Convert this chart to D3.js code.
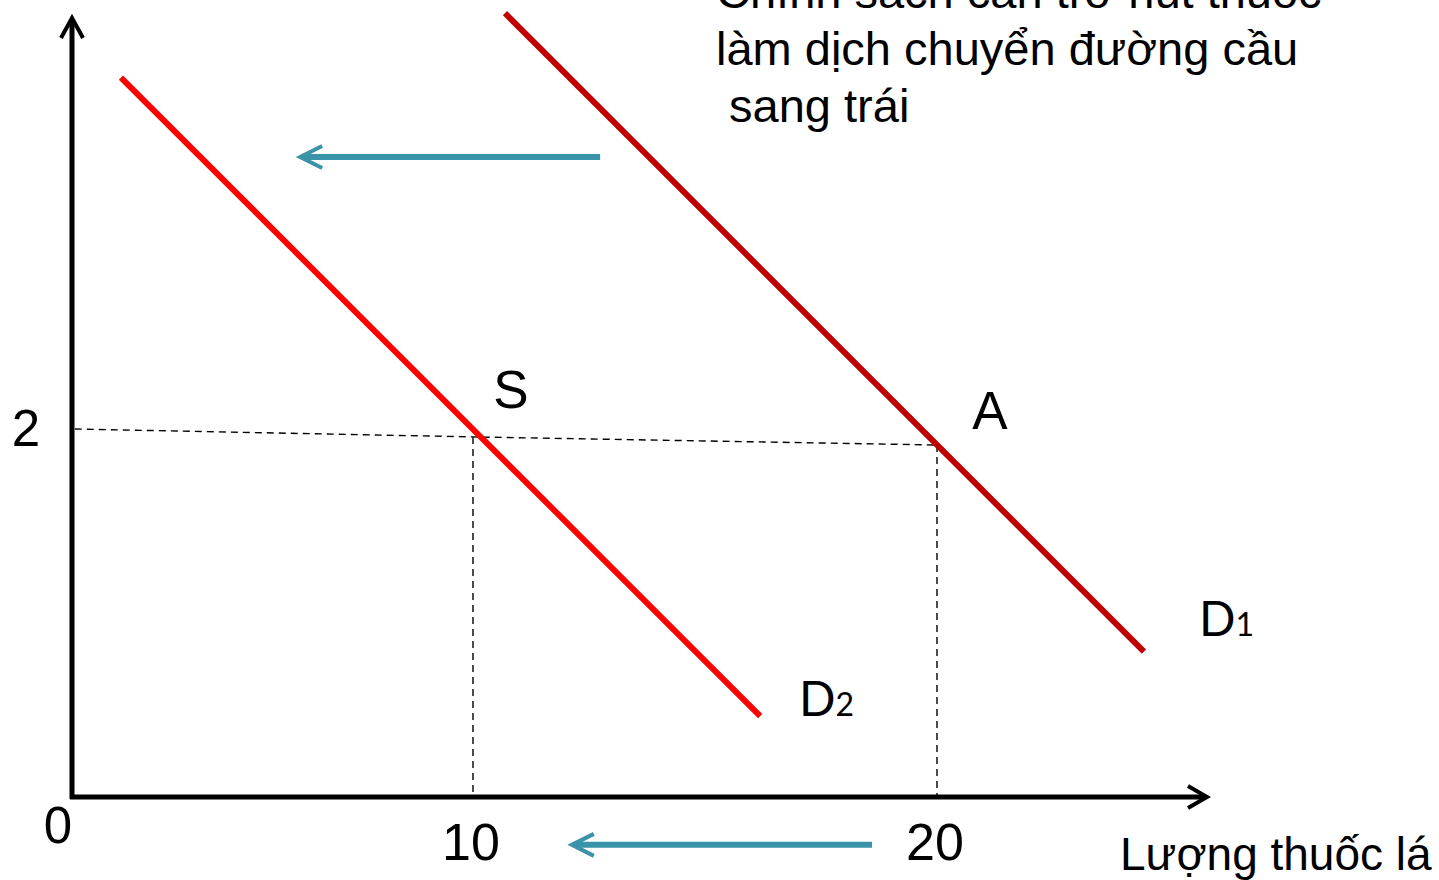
<!DOCTYPE html>
<html><head><meta charset="utf-8">
<script src="https://cdn.jsdelivr.net/npm/d3@7"></script>
<style>html,body{margin:0;padding:0;background:#fff;overflow:hidden}</style>
</head><body>
<svg id="chart" width="1439" height="880"></svg>
<script>
// ---- data (quantity, price) ----
const xTicks = [0, 10, 20];
const xTickLabels = ["0", "10", "20"];
const yTickValue = 2;
const yTickLabel = "2";
const demandD1 = [[10.69, 4.26], [24.46, 0.79]];
const demandD2 = [[1.22, 3.91], [16.19, 0.44]];
const priceLine = [[0.07, 2.0], [10, 1.957], [20, 1.913]];
const pointS = [10, 1.957];
const pointA = [20, 1.913];
const pointLabels = ["S", "A"];
const curveLabels = ["D", "D"];
const curveSubs = ["1", "2"];
const titleLines = ["Chính sách cản trở hút thuốc", "làm dịch chuyển đường cầu", " sang trái"];
const xAxisTitle = "Lượng thuốc lá";
const shiftArrowTop = [[12.74, 3.478], [5.69, 3.478]];
const shiftArrowBottom = [[18.6, -0.26], [12.13, -0.26]];

const svg = d3.select("#chart");
const x = d3.scaleLinear().domain([0, 10, 20]).range([72, 473, 937]);
const y = d3.scaleLinear().domain([0, 2]).range([797, 429]);

const F = "'Liberation Sans', Arial, sans-serif";
const blue = "#3a93a8";

// dashed guides
const line = d3.line().x(d => x(d[0])).y(d => y(d[1]));
svg.append("path").attr("d", line(priceLine)).attr("fill","none")
  .attr("stroke","#000").attr("stroke-width",1.4).attr("stroke-dasharray","7,5");
[pointS, pointA].forEach(p => {
  svg.append("line").attr("x1", x(p[0])).attr("x2", x(p[0]))
    .attr("y1", y(p[1])).attr("y2", y(0))
    .attr("stroke","#000").attr("stroke-width",1.4).attr("stroke-dasharray","7,5");
});

// demand curves
svg.append("path").attr("d", line(demandD2)).attr("stroke","#ff0000").attr("stroke-width",6).attr("fill","none");
svg.append("path").attr("d", line(demandD1)).attr("stroke","#c00000").attr("stroke-width",6).attr("fill","none");

// axes
const x0 = x(0), y0 = y(0);
svg.append("line").attr("x1", x0).attr("x2", x0).attr("y1", 20).attr("y2", y0+2)
  .attr("stroke","#000").attr("stroke-width",5);
svg.append("line").attr("x1", x0-2).attr("x2", 1204).attr("y1", y0).attr("y2", y0)
  .attr("stroke","#000").attr("stroke-width",5);
svg.append("path").attr("d", `M${x0-11},${38} L${x0},${18} L${x0+11},${38}`)
  .attr("fill","none").attr("stroke","#000").attr("stroke-width",4);
svg.append("path").attr("d", `M1188,${y0-11} L1207,${y0} L1188,${y0+11}`)
  .attr("fill","none").attr("stroke","#000").attr("stroke-width",4);

// tick labels
svg.append("text").attr("x", 58).attr("y", 843).attr("text-anchor","middle")
  .attr("font-family",F).attr("font-size",51).text(xTickLabels[0]);
xTicks.slice(1).forEach((t,i) => {
  svg.append("text").attr("x", x(t)-2).attr("y", 860).attr("text-anchor","middle")
    .attr("font-family",F).attr("font-size",52).text(xTickLabels[i+1]);
});
svg.append("text").attr("x", 26).attr("y", y(yTickValue)+17).attr("text-anchor","middle")
  .attr("font-family",F).attr("font-size",51).text(yTickLabel);

// point labels
svg.append("text").attr("x", x(pointS[0])+38).attr("y", 408).attr("text-anchor","middle")
  .attr("font-family",F).attr("font-size",53).text(pointLabels[0]);
svg.append("text").attr("x", x(pointA[0])+53).attr("y", 429).attr("text-anchor","middle")
  .attr("font-family",F).attr("font-size",53).text(pointLabels[1]);

// curve labels
const LF = "Lato, 'Open Sans', sans-serif";
[[1199, 636], [799, 716]].forEach((pos, i) => {
  const t = svg.append("text").attr("x", pos[0]).attr("y", pos[1]).attr("font-family",LF);
  t.append("tspan").attr("font-size",48).text(curveLabels[i]);
  t.append("tspan").attr("font-size",32).text(curveSubs[i]);
});

// title
const tl = [[716, 8], [716, 65], [716, 122]];
titleLines.forEach((s, i) => {
  svg.append("text").attr("x", tl[i][0]).attr("y", tl[i][1]).attr("font-family",F)
    .attr("font-size",47).attr("xml:space","preserve").style("white-space","pre").text(s);
});

// x axis title
svg.append("text").attr("x", 1120).attr("y", 870).attr("font-family",F)
  .attr("font-size",46).text(xAxisTitle);

// shift arrows
[shiftArrowTop, shiftArrowBottom].forEach(a => {
  const xa = x(a[0][0]), xb = x(a[1][0]), yy = y(a[0][1]);
  svg.append("line").attr("x1", xa).attr("x2", xb+4).attr("y1", yy).attr("y2", yy)
    .attr("stroke", blue).attr("stroke-width",6);
  svg.append("path").attr("d", `M${xb+22},${yy-11} L${xb},${yy} L${xb+22},${yy+11}`)
    .attr("fill","none").attr("stroke", blue).attr("stroke-width",4);
});
</script>
</body></html>
